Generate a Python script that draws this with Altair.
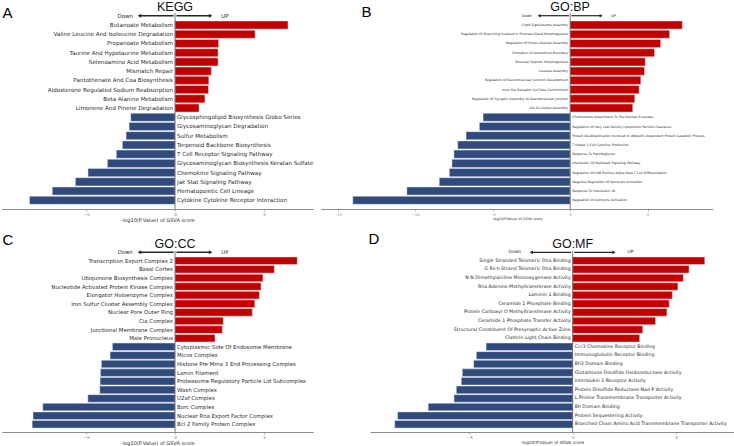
import altair as alt
import numpy as np
import pandas as pd

# ---- enrichment results: term names and -log10(P) scores (signed by direction) ----
kegg_terms = [
    "Butanoate Metabolism",
    "Valine Leucine And Isoleucine Degradation",
    "Propanoate Metabolism",
    "Taurine And Hypotaurine Metabolism",
    "Selenoamino Acid Metabolism",
    "Mismatch Repair",
    "Pantothenate And Coa Biosynthesis",
    "Aldosterone Regulated Sodium Reabsorption",
    "Beta Alanine Metabolism",
    "Limonene And Pinene Degradation",
    "Glycosphingolipid Biosynthesis Globo Series",
    "Glycosaminoglycan Degradation",
    "Sulfur Metabolism",
    "Terpenoid Backbone Biosynthesis",
    "T Cell Receptor Signaling Pathway",
    "Glycosaminoglycan Biosynthesis Keratan Sulfate",
    "Chemokine Signaling Pathway",
    "Jak Stat Signaling Pathway",
    "Hematopoietic Cell Lineage",
    "Cytokine Cytokine Receptor Interaction",
]
kegg_values = [6.35, 4.50, 2.45, 2.42, 2.42, 2.04, 1.90, 1.88, 1.68, 1.35,
               -2.49, -2.58, -2.75, -2.96, -3.30, -3.80, -4.89, -5.60, -6.90, -8.18]

bp_terms = [
    "Cop9 Signalosome Assembly",
    "Regulation Of Branching Involved In Prostate Gland Morphogenesis",
    "Regulation Of Stress Granule Assembly",
    "Formation Of Anatomical Boundary",
    "Muscular Septum Morphogenesis",
    "Caveola Assembly",
    "Regulation Of Neuromuscular Junction Development",
    "Inner Ear Receptor Cell Fate Commitment",
    "Regulation Of Synaptic Assembly At Neuromuscular Junction",
    "2fe 2s Cluster Assembly",
    "Chromosome Attachment To The Nuclear Envelope",
    "Regulation Of Very Low Density Lipoprotein Particle Clearance",
    "Protein Deubiquitination Involved In Ubiquitin Dependent Protein Catabolic Process",
    "T Helper 1 Cell Cytokine Production",
    "Response To Peptidoglycan",
    "Interleukin 18 Mediated Signaling Pathway",
    "Regulation Of Cd8 Positive Alpha Beta T Cell Differentiation",
    "Negative Regulation Of Astrocyte Activation",
    "Response To Interleukin 18",
    "Regulation Of Astrocyte Activation",
]
bp_values = [7.24, 6.42, 5.84, 5.45, 4.85, 4.80, 4.56, 4.45, 4.17, 4.04,
             -5.62, -5.86, -6.72, -7.26, -7.50, -7.63, -7.80, -8.45, -10.54, -14.03]

cc_terms = [
    "Transcription Export Complex 2",
    "Basal Cortex",
    "Ubiquinone Biosynthesis Complex",
    "Nucleotide Activated Protein Kinase Complex",
    "Elongator Holoenzyme Complex",
    "Iron Sulfur Cluster Assembly Complex",
    "Nuclear Pore Outer Ring",
    "Cia Complex",
    "Junctional Membrane Complex",
    "Male Pronucleus",
    "Cytoplasmic Side Of Endosome Membrane",
    "Micos Complex",
    "Histone Pre Mrna 3 End Processing Complex",
    "Lamin Filament",
    "Proteasome Regulatory Particle Lid Subcomplex",
    "Wash Complex",
    "U2af Complex",
    "Borc Complex",
    "Nuclear Rna Export Factor Complex",
    "Bcl 2 Family Protein Complex",
]
cc_values = [6.87, 5.58, 4.94, 4.83, 4.74, 4.48, 4.34, 2.71, 2.66, 2.25,
             -3.52, -3.65, -4.14, -4.19, -4.21, -4.23, -4.90, -7.43, -7.98, -8.03]

mf_terms = [
    "Single Stranded Telomeric Dna Binding",
    "G Rich Strand Telomeric Dna Binding",
    "N N Dimethylaniline Monooxygenase Activity",
    "Rna Adenine Methyltransferase Activity",
    "Laminin 1 Binding",
    "Ceramide 1 Phosphate Binding",
    "Protein Carboxyl O Methyltransferase Activity",
    "Ceramide 1 Phosphate Transfer Activity",
    "Structural Constituent Of Presynaptic Active Zone",
    "Clathrin Light Chain Binding",
    "Ccr3 Chemokine Receptor Binding",
    "Immunoglobulin Receptor Binding",
    "Bh3 Domain Binding",
    "Glutathione Disulfide Oxidoreductase Activity",
    "Interleukin 1 Receptor Activity",
    "Protein Disulfide Reductase Nad P Activity",
    "L Proline Transmembrane Transporter Activity",
    "Bh Domain Binding",
    "Protein Sequestering Activity",
    "Branched Chain Amino Acid Transmembrane Transporter Activity",
]
mf_values = [6.39, 5.63, 5.35, 5.09, 4.82, 4.67, 4.56, 4.01, 3.39, 3.24,
             -4.19, -4.66, -4.79, -5.34, -5.39, -5.63, -5.74, -6.99, -8.47, -8.61]

panel_titles = ["KEGG", "GO:BP", "GO:CC", "GO:MF"]
panel_letters = ["A", "B", "C", "D"]
direction_labels = ["Down", "UP"]
axis_title = "-log10(P.Value) of GSVA score"

# ---- styling ----
RED = "#C00000"
BLUE = "#2F4A7B"
TEXT = "#2b2b2b"
GREY = "#7a7a7a"
INK = "#262626"
LABEL_FONT = "DejaVu Sans"
TITLE_FONT = "Liberation Sans"
TOTAL_W, TOTAL_H = 734, 446
ARROW_SPAN = 2.0     # arrow length in score units
ARROW_GAP = 0.08     # gap between arrow root and the zero line
WORD_POS = 2.8       # where "Down"/"UP" sit, in score units


def panel_layers(terms, values, title, layout):
    """All layers of one diverging-bar panel; every layer carries the same explicit scales."""
    df = pd.DataFrame({"term": terms, "value": values})
    df["dir"] = np.where(df["value"] > 0, "UP", "Down")

    def xs():
        return alt.Scale(domain=layout["xdomain"], range=layout["xrange"], nice=False, zero=False)

    def ys():
        return alt.Scale(domain=terms, range=layout["yrange"], paddingInner=0.12, paddingOuter=0.06)

    fs = layout["label_size"]
    base = alt.Chart(df)

    bars = base.mark_bar(stroke="#e4e6ec", strokeWidth=0.5).encode(
        x=alt.X(
            "value:Q",
            scale=xs(),
            axis=alt.Axis(
                orient="bottom",
                offset=layout["axis_y"] - TOTAL_H,
                values=layout["ticks"],
                format="d",
                title=axis_title,
                titleFont=LABEL_FONT,
                titleFontSize=layout["axis_title_size"],
                titleFontWeight="normal",
                titleColor=TEXT,
                titlePadding=1,
                labelFont=LABEL_FONT,
                labelFontSize=layout["tick_size"],
                labelColor=GREY,
                labelPadding=1,
                labelFlush=False,
                tickSize=2,
                tickColor=GREY,
                tickWidth=0.6,
                domainColor="#8c8c8c",
                domainWidth=1,
                grid=False,
            ),
        ),
        x2=alt.X2Datum(0),
        y=alt.Y("term:N", scale=ys(), axis=None, sort=terms),
        color=alt.Color("dir:N", scale=alt.Scale(domain=["UP", "Down"], range=[RED, BLUE]), legend=None),
    )

    up_labels = base.transform_filter("datum.value > 0").mark_text(
        align="right", baseline="middle", dx=-2, font=LABEL_FONT, fontSize=fs, color=TEXT
    ).encode(
        x=alt.XDatum(0, scale=xs(), axis=None),
        y=alt.Y("term:N", scale=ys(), axis=None, sort=terms),
        text="term:N",
    )
    down_labels = base.transform_filter("datum.value < 0").mark_text(
        align="left", baseline="middle", dx=2, font=LABEL_FONT, fontSize=fs, color=TEXT
    ).encode(
        x=alt.XDatum(0, scale=xs(), axis=None),
        y=alt.Y("term:N", scale=ys(), axis=None, sort=terms),
        text="term:N",
    )

    one_row = pd.DataFrame({"panel": [title]})

    zero_line = alt.Chart(one_row).mark_rule(color="#555555", strokeWidth=0.8).encode(
        x=alt.XDatum(0, scale=xs(), axis=None),
        y=alt.value(layout["zero_top"]),
        y2=alt.value(layout["axis_y"]),
    )

    # "Down <----|----> UP" banner above the bars: thin rectangles as shafts, triangles as heads
    ay = layout["arrow_y"]
    half = layout["shaft"] / 2
    banner = []
    for label, sign in zip(direction_labels, (-1, 1)):
        banner.append(
            alt.Chart(one_row).mark_rect(color=INK, opacity=1).encode(
                x=alt.XDatum(sign * ARROW_GAP, scale=xs(), axis=None),
                x2=alt.X2Datum(sign * ARROW_SPAN),
                y=alt.value(ay - half),
                y2=alt.value(ay + half),
            )
        )
        banner.append(
            alt.Chart(one_row).mark_point(
                filled=True, color=INK, opacity=1, size=layout["head_size"],
                shape="triangle-left" if sign < 0 else "triangle-right",
            ).encode(
                x=alt.XDatum(sign * ARROW_SPAN, scale=xs(), axis=None),
                y=alt.value(ay),
            )
        )
        banner.append(
            alt.Chart(one_row).mark_text(
                baseline="middle", align="center", font=LABEL_FONT,
                fontSize=layout["word_size"], color=TEXT,
            ).encode(
                x=alt.XDatum(sign * WORD_POS, scale=xs(), axis=None),
                y=alt.value(ay),
                text=alt.value(label),
            )
        )

    heading = alt.Chart(one_row).mark_text(
        baseline="alphabetic", align="center", font=TITLE_FONT, fontSize=12.5, color="#111111"
    ).encode(
        x=alt.XDatum(0, scale=xs(), axis=None),
        y=alt.value(layout["title_y"]),
        text="panel:N",
    )

    return [bars, up_labels, down_labels, zero_line] + banner + [heading]


top = dict(yrange=[20.4, 204.9], axis_y=209, zero_top=13, arrow_y=15.7, title_y=11.3)
bottom = dict(yrange=[256.4, 428.6], axis_y=432, zero_top=251, arrow_y=252.3, title_y=248)

layout_a = dict(top, xdomain=[-9.74, 7.77], xrange=[1.7, 313.3], ticks=[-5, 0, 5],
                label_size=5.6, tick_size=4.2, axis_title_size=5.0, word_size=5.5,
                head_size=16, shaft=1.4)
layout_b = dict(top, xdomain=[-16.1, 9.2], xrange=[320.7, 712.7], ticks=[-15, -10, -5, 0, 5],
                label_size=3.2, tick_size=3.4, axis_title_size=3.4, word_size=3.6,
                head_size=12, shaft=1.2)
layout_c = dict(bottom, xdomain=[-9.74, 7.77], xrange=[1.7, 313.3], ticks=[-5, 0, 5],
                label_size=5.4, tick_size=4.2, axis_title_size=5.0, word_size=5.3,
                head_size=16, shaft=1.4)
layout_d = dict(bottom, xdomain=[-9.79, 7.79], xrange=[370.3, 733.7], ticks=[-5, 0, 5],
                label_size=4.7, tick_size=4.0, axis_title_size=4.3, word_size=4.5,
                head_size=14, shaft=1.3)

layers = (
    panel_layers(kegg_terms, kegg_values, panel_titles[0], layout_a)
    + panel_layers(bp_terms, bp_values, panel_titles[1], layout_b)
    + panel_layers(cc_terms, cc_values, panel_titles[2], layout_c)
    + panel_layers(mf_terms, mf_values, panel_titles[3], layout_d)
)

# panel tags in the corners
letter_pos = [(2.5, 17.5), (361.5, 17), (2.5, 244.5), (368.5, 244)]
layers += [
    alt.Chart(pd.DataFrame({"tag": [tag]})).mark_text(
        align="left", baseline="alphabetic", font=TITLE_FONT, fontSize=15, color="#000000"
    ).encode(x=alt.value(px), y=alt.value(py), text="tag:N")
    for tag, (px, py) in zip(panel_letters, letter_pos)
]

chart = (
    alt.layer(*layers)
    .resolve_scale(x="independent", y="independent")
    .properties(
        width=TOTAL_W,
        height=TOTAL_H,
        padding=0,
        autosize=alt.AutoSizeParams(type="none"),
        background="white",
    )
    .configure_view(stroke=None)
)

chart.save("out.html", embed_options={"renderer": "svg", "actions": False})
